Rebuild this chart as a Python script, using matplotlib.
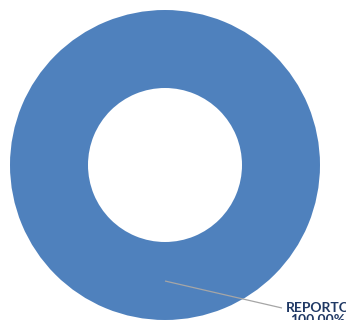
import matplotlib
matplotlib.use("Agg")
import matplotlib.pyplot as plt
import numpy as np

categories = ["REPORTO"]
values = [100.0]
color = "#4F81BD"

fig = plt.figure(figsize=(3.46, 3.2), dpi=100)
ax = fig.add_axes([0, 0, 1, 1])
ax.set_xlim(0, 346)
ax.set_ylim(0, 320)
ax.set_aspect("equal")
ax.axis("off")

cx, cy = 165, 155
R = 155
w = 78
wedges, _ = ax.pie(values, colors=[color], radius=R, center=(cx, cy), startangle=90,
                   wedgeprops=dict(width=w, edgecolor="none"), frame=True)
ax.set_xlim(0, 346)
ax.set_ylim(0, 320)
ax.axis("off")

total = sum(values)
for wdg, cat, v in zip(wedges, categories, values):
    ang = np.deg2rad((wdg.theta1 + wdg.theta2) / 2)
    rmid = R - w / 2
    x0 = cx + rmid * np.cos(ang)
    y0 = cy + rmid * np.sin(ang)
    ax.plot([x0, 282], [y0, 12], color="#A6A6A6", lw=0.9, solid_capstyle="butt")
    ax.text(318, 18, f"{cat}\n{v / total * 100:.2f}%", ha="center", va="top",
            fontsize=10, fontweight="bold", color="#1F3864", family="Lato",
            linespacing=1.0)

fig.savefig("out.png", dpi=100)
